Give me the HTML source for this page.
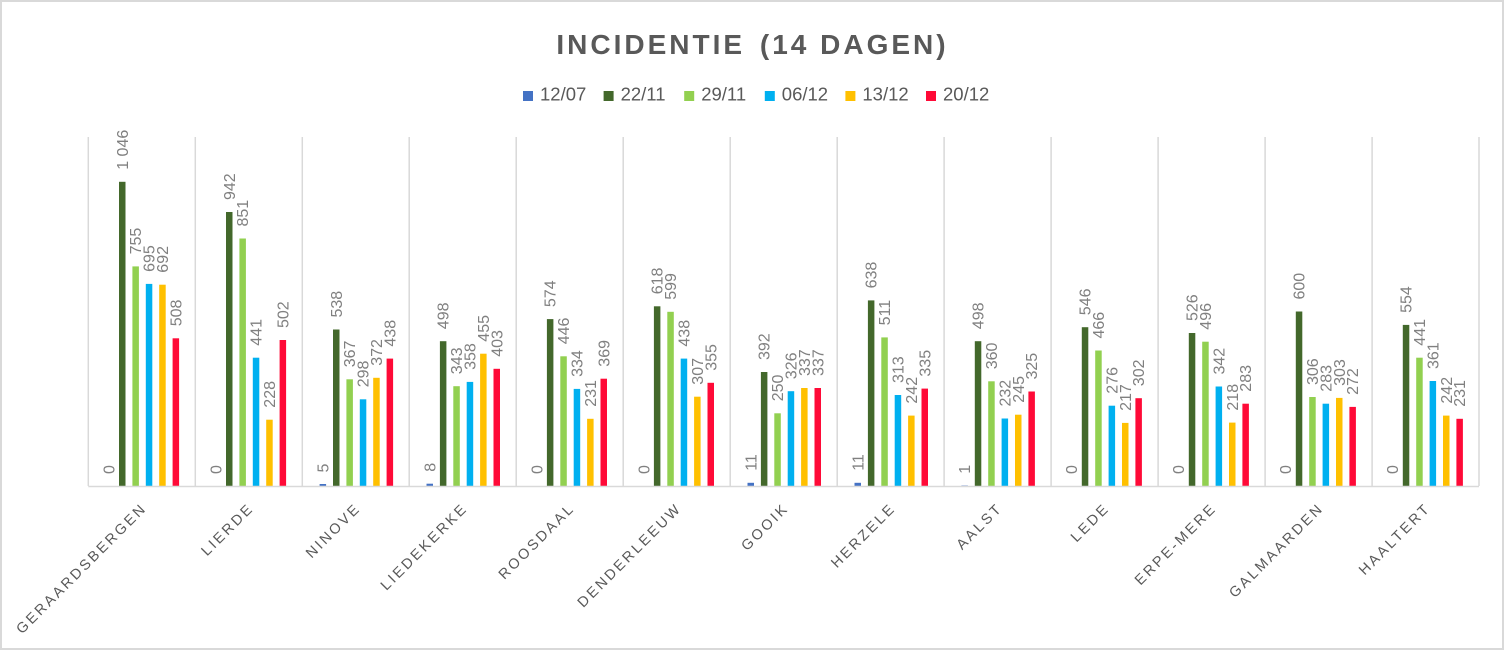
<!DOCTYPE html>
<html><head><meta charset="utf-8"><style>
html,body{margin:0;padding:0;background:#fff;}
svg{display:block;font-family:"Liberation Sans",Arial,sans-serif;}
.lb{font-size:16px;fill:#808080;}
.cat{font-size:14.5px;fill:#595959;letter-spacing:2.5px;}
.lg{font-size:18.5px;fill:#595959;}
.g{fill:#43682b}.l{fill:#92d050}.b{fill:#00b0f0}.y{fill:#ffc000}.r{fill:#ff0a37}.d{fill:#4472c4}
</style></head><body>
<svg width="1504" height="650" viewBox="0 0 1504 650" xmlns="http://www.w3.org/2000/svg">
<rect x="1" y="1" width="1502" height="648" fill="#fff" stroke="#d9d9d9" stroke-width="2"/>
<text x="752.5" y="54" text-anchor="middle" font-size="28" font-weight="bold" fill="#595959" letter-spacing="3.0">INCIDENTIE <tspan dx="4">(14 DAGEN)</tspan></text>
<rect class="d" x="523" y="91" width="10" height="10"/><text class="lg" x="540" y="100.5">12/07</text>
<rect class="g" x="603.6" y="91" width="10" height="10"/><text class="lg" x="620.6" y="100.5">22/11</text>
<rect class="l" x="684.2" y="91" width="10" height="10"/><text class="lg" x="701.2" y="100.5">29/11</text>
<rect class="b" x="764.8" y="91" width="10" height="10"/><text class="lg" x="781.8" y="100.5">06/12</text>
<rect class="y" x="845.4" y="91" width="10" height="10"/><text class="lg" x="862.4" y="100.5">13/12</text>
<rect class="r" x="926" y="91" width="10" height="10"/><text class="lg" x="943" y="100.5">20/12</text>
<g stroke="#d9d9d9" stroke-width="1.5">
<line x1="88.3" y1="137" x2="88.3" y2="486"/><line x1="195.3" y1="137" x2="195.3" y2="486"/><line x1="302.3" y1="137" x2="302.3" y2="486"/><line x1="409.2" y1="137" x2="409.2" y2="486"/><line x1="516.2" y1="137" x2="516.2" y2="486"/><line x1="623.2" y1="137" x2="623.2" y2="486"/><line x1="730.2" y1="137" x2="730.2" y2="486"/><line x1="837.2" y1="137" x2="837.2" y2="486"/><line x1="944.1" y1="137" x2="944.1" y2="486"/><line x1="1051.1" y1="137" x2="1051.1" y2="486"/><line x1="1158.1" y1="137" x2="1158.1" y2="486"/><line x1="1265.1" y1="137" x2="1265.1" y2="486"/><line x1="1372.1" y1="137" x2="1372.1" y2="486"/><line x1="1479" y1="137" x2="1479" y2="486"/>
</g>
<!-- bars -->
<rect class="g" x="119.0" y="181.8" width="6.5" height="304.2"/><rect class="l" x="132.4" y="266.4" width="6.5" height="219.6"/><rect class="b" x="145.8" y="283.9" width="6.5" height="202.1"/><rect class="y" x="159.2" y="284.7" width="6.5" height="201.3"/><rect class="r" x="172.6" y="338.3" width="6.5" height="147.7"/>
<rect class="g" x="226.0" y="212.0" width="6.5" height="274.0"/><rect class="l" x="239.4" y="238.5" width="6.5" height="247.5"/><rect class="b" x="252.8" y="357.7" width="6.5" height="128.3"/><rect class="y" x="266.2" y="419.7" width="6.5" height="66.3"/><rect class="r" x="279.6" y="340.0" width="6.5" height="146.0"/>
<rect class="d" x="319.6" y="484.0" width="6.5" height="2.0"/><rect class="g" x="333.0" y="329.5" width="6.5" height="156.5"/><rect class="l" x="346.4" y="379.3" width="6.5" height="106.7"/><rect class="b" x="359.8" y="399.3" width="6.5" height="86.7"/><rect class="y" x="373.2" y="377.8" width="6.5" height="108.2"/><rect class="r" x="386.6" y="358.6" width="6.5" height="127.4"/>
<rect class="d" x="426.5" y="483.7" width="6.5" height="2.3"/><rect class="g" x="439.9" y="341.2" width="6.5" height="144.8"/><rect class="l" x="453.3" y="386.2" width="6.5" height="99.8"/><rect class="b" x="466.7" y="381.9" width="6.5" height="104.1"/><rect class="y" x="480.1" y="353.7" width="6.5" height="132.3"/><rect class="r" x="493.5" y="368.8" width="6.5" height="117.2"/>
<rect class="g" x="546.9" y="319.1" width="6.5" height="166.9"/><rect class="l" x="560.3" y="356.3" width="6.5" height="129.7"/><rect class="b" x="573.7" y="388.9" width="6.5" height="97.1"/><rect class="y" x="587.1" y="418.8" width="6.5" height="67.2"/><rect class="r" x="600.5" y="378.7" width="6.5" height="107.3"/>
<rect class="g" x="653.9" y="306.3" width="6.5" height="179.7"/><rect class="l" x="667.3" y="311.8" width="6.5" height="174.2"/><rect class="b" x="680.7" y="358.6" width="6.5" height="127.4"/><rect class="y" x="694.1" y="396.7" width="6.5" height="89.3"/><rect class="r" x="707.5" y="382.8" width="6.5" height="103.2"/>
<rect class="d" x="747.5" y="482.8" width="6.5" height="3.2"/><rect class="g" x="760.9" y="372.0" width="6.5" height="114.0"/><rect class="l" x="774.3" y="413.3" width="6.5" height="72.7"/><rect class="b" x="787.7" y="391.2" width="6.5" height="94.8"/><rect class="y" x="801.1" y="388.0" width="6.5" height="98.0"/><rect class="r" x="814.5" y="388.0" width="6.5" height="98.0"/>
<rect class="d" x="854.5" y="482.8" width="6.5" height="3.2"/><rect class="g" x="867.9" y="300.4" width="6.5" height="185.6"/><rect class="l" x="881.3" y="337.4" width="6.5" height="148.6"/><rect class="b" x="894.7" y="395.0" width="6.5" height="91.0"/><rect class="y" x="908.1" y="415.6" width="6.5" height="70.4"/><rect class="r" x="921.5" y="388.6" width="6.5" height="97.4"/>
<rect class="d" x="961.4" y="485.5" width="6.5" height="0.5"/><rect class="g" x="974.8" y="341.2" width="6.5" height="144.8"/><rect class="l" x="988.2" y="381.3" width="6.5" height="104.7"/><rect class="b" x="1001.6" y="418.5" width="6.5" height="67.5"/><rect class="y" x="1015.0" y="414.7" width="6.5" height="71.3"/><rect class="r" x="1028.4" y="391.5" width="6.5" height="94.5"/>
<rect class="g" x="1081.8" y="327.2" width="6.5" height="158.8"/><rect class="l" x="1095.2" y="350.5" width="6.5" height="135.5"/><rect class="b" x="1108.6" y="405.7" width="6.5" height="80.3"/><rect class="y" x="1122.0" y="422.9" width="6.5" height="63.1"/><rect class="r" x="1135.4" y="398.2" width="6.5" height="87.8"/>
<rect class="g" x="1188.8" y="333.0" width="6.5" height="153.0"/><rect class="l" x="1202.2" y="341.7" width="6.5" height="144.3"/><rect class="b" x="1215.6" y="386.5" width="6.5" height="99.5"/><rect class="y" x="1229.0" y="422.6" width="6.5" height="63.4"/><rect class="r" x="1242.4" y="403.7" width="6.5" height="82.3"/>
<rect class="g" x="1295.8" y="311.5" width="6.5" height="174.5"/><rect class="l" x="1309.2" y="397.0" width="6.5" height="89.0"/><rect class="b" x="1322.6" y="403.7" width="6.5" height="82.3"/><rect class="y" x="1336.0" y="397.9" width="6.5" height="88.1"/><rect class="r" x="1349.4" y="406.9" width="6.5" height="79.1"/>
<rect class="g" x="1402.8" y="324.9" width="6.5" height="161.1"/><rect class="l" x="1416.2" y="357.7" width="6.5" height="128.3"/><rect class="b" x="1429.6" y="381.0" width="6.5" height="105.0"/><rect class="y" x="1443.0" y="415.6" width="6.5" height="70.4"/><rect class="r" x="1456.4" y="418.8" width="6.5" height="67.2"/>
<line x1="88.3" y1="486.5" x2="1479" y2="486.5" stroke="#d9d9d9" stroke-width="1.5"/>
<!-- data labels -->
<g class="lb">
<text transform="translate(114.35 474) rotate(-90)">0</text><text transform="translate(127.75 169.8) rotate(-90)">1 046</text><text transform="translate(141.15 254.4) rotate(-90)">755</text><text transform="translate(154.55 271.9) rotate(-90)">695</text><text transform="translate(167.95 272.7) rotate(-90)">692</text><text transform="translate(181.35 326.3) rotate(-90)">508</text>
<text transform="translate(221.35 474) rotate(-90)">0</text><text transform="translate(234.75 200.0) rotate(-90)">942</text><text transform="translate(248.15 226.5) rotate(-90)">851</text><text transform="translate(261.55 345.7) rotate(-90)">441</text><text transform="translate(274.95 407.7) rotate(-90)">228</text><text transform="translate(288.35 328.0) rotate(-90)">502</text>
<text transform="translate(328.35 472.5) rotate(-90)">5</text><text transform="translate(341.75 317.5) rotate(-90)">538</text><text transform="translate(355.15 367.3) rotate(-90)">367</text><text transform="translate(368.55 387.3) rotate(-90)">298</text><text transform="translate(381.95 365.8) rotate(-90)">372</text><text transform="translate(395.35 346.6) rotate(-90)">438</text>
<text transform="translate(435.25 471.7) rotate(-90)">8</text><text transform="translate(448.65 329.2) rotate(-90)">498</text><text transform="translate(462.05 374.2) rotate(-90)">343</text><text transform="translate(475.45 369.9) rotate(-90)">358</text><text transform="translate(488.85 341.7) rotate(-90)">455</text><text transform="translate(502.25 356.8) rotate(-90)">403</text>
<text transform="translate(542.25 474) rotate(-90)">0</text><text transform="translate(555.65 307.1) rotate(-90)">574</text><text transform="translate(569.05 344.3) rotate(-90)">446</text><text transform="translate(582.45 376.9) rotate(-90)">334</text><text transform="translate(595.85 406.8) rotate(-90)">231</text><text transform="translate(609.25 366.7) rotate(-90)">369</text>
<text transform="translate(649.25 474) rotate(-90)">0</text><text transform="translate(662.65 294.3) rotate(-90)">618</text><text transform="translate(676.05 299.8) rotate(-90)">599</text><text transform="translate(689.45 346.6) rotate(-90)">438</text><text transform="translate(702.85 384.7) rotate(-90)">307</text><text transform="translate(716.25 370.8) rotate(-90)">355</text>
<text transform="translate(756.25 470.8) rotate(-90)">11</text><text transform="translate(769.65 360.0) rotate(-90)">392</text><text transform="translate(783.05 401.3) rotate(-90)">250</text><text transform="translate(796.45 379.2) rotate(-90)">326</text><text transform="translate(809.85 376.0) rotate(-90)">337</text><text transform="translate(823.25 376.0) rotate(-90)">337</text>
<text transform="translate(863.25 470.8) rotate(-90)">11</text><text transform="translate(876.65 288.4) rotate(-90)">638</text><text transform="translate(890.05 325.4) rotate(-90)">511</text><text transform="translate(903.45 383.0) rotate(-90)">313</text><text transform="translate(916.85 403.6) rotate(-90)">242</text><text transform="translate(930.25 376.6) rotate(-90)">335</text>
<text transform="translate(970.15 473.7) rotate(-90)">1</text><text transform="translate(983.55 329.2) rotate(-90)">498</text><text transform="translate(996.95 369.3) rotate(-90)">360</text><text transform="translate(1010.35 406.5) rotate(-90)">232</text><text transform="translate(1023.75 402.7) rotate(-90)">245</text><text transform="translate(1037.15 379.5) rotate(-90)">325</text>
<text transform="translate(1077.15 474) rotate(-90)">0</text><text transform="translate(1090.55 315.2) rotate(-90)">546</text><text transform="translate(1103.95 338.5) rotate(-90)">466</text><text transform="translate(1117.35 393.7) rotate(-90)">276</text><text transform="translate(1130.75 410.9) rotate(-90)">217</text><text transform="translate(1144.15 386.2) rotate(-90)">302</text>
<text transform="translate(1184.15 474) rotate(-90)">0</text><text transform="translate(1197.55 321.0) rotate(-90)">526</text><text transform="translate(1210.95 329.7) rotate(-90)">496</text><text transform="translate(1224.35 374.5) rotate(-90)">342</text><text transform="translate(1237.75 410.6) rotate(-90)">218</text><text transform="translate(1251.15 391.7) rotate(-90)">283</text>
<text transform="translate(1291.15 474) rotate(-90)">0</text><text transform="translate(1304.55 299.5) rotate(-90)">600</text><text transform="translate(1317.95 385.0) rotate(-90)">306</text><text transform="translate(1331.35 391.7) rotate(-90)">283</text><text transform="translate(1344.75 385.9) rotate(-90)">303</text><text transform="translate(1358.15 394.9) rotate(-90)">272</text>
<text transform="translate(1398.15 474) rotate(-90)">0</text><text transform="translate(1411.55 312.9) rotate(-90)">554</text><text transform="translate(1424.95 345.7) rotate(-90)">441</text><text transform="translate(1438.35 369.0) rotate(-90)">361</text><text transform="translate(1451.75 403.6) rotate(-90)">242</text><text transform="translate(1465.15 406.8) rotate(-90)">231</text>
</g>
<!-- category labels -->
<g class="cat" text-anchor="end">
<text transform="translate(147.6 509) rotate(-45)">GERAARDSBERGEN</text>
<text transform="translate(254.6 509) rotate(-45)">LIERDE</text>
<text transform="translate(361.5 509) rotate(-45)">NINOVE</text>
<text transform="translate(468.5 509) rotate(-45)">LIEDEKERKE</text>
<text transform="translate(575.5 509) rotate(-45)">ROOSDAAL</text>
<text transform="translate(682.5 509) rotate(-45)">DENDERLEEUW</text>
<text transform="translate(789.5 509) rotate(-45)">GOOIK</text>
<text transform="translate(896.5 509) rotate(-45)">HERZELE</text>
<text transform="translate(1003.4 509) rotate(-45)">AALST</text>
<text transform="translate(1110.4 509) rotate(-45)">LEDE</text>
<text transform="translate(1217.4 509) rotate(-45)">ERPE-MERE</text>
<text transform="translate(1324.4 509) rotate(-45)">GALMAARDEN</text>
<text transform="translate(1431.4 509) rotate(-45)">HAALTERT</text>
</g>
</svg>
</body></html>
